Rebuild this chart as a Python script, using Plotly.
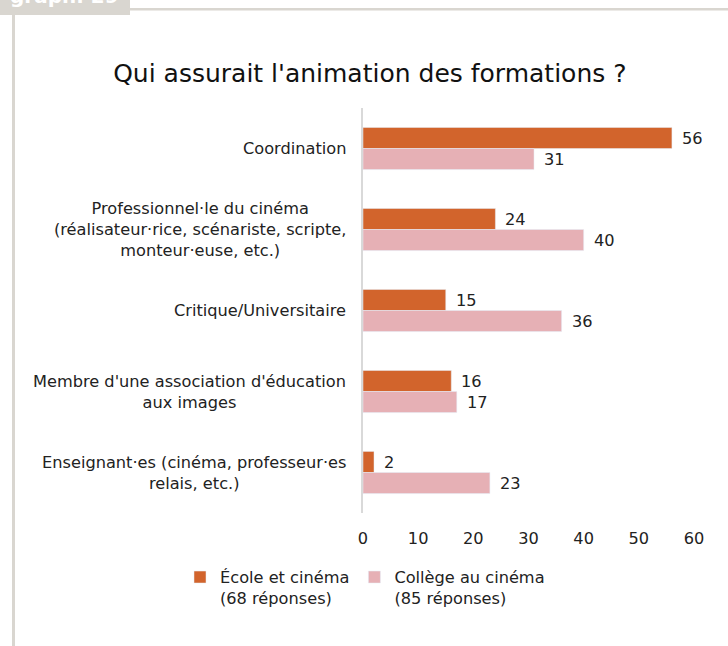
import plotly.graph_objects as go

categories = [
    "Coordination",
    "Professionnel·le du cinéma<br>(réalisateur·rice, scénariste, scripte,<br>monteur·euse, etc.)",
    "Critique/Universitaire",
    "Membre d'une association d'éducation<br>aux images",
    "Enseignant·es (cinéma, professeur·es<br>relais, etc.)",
]
ecole = [56, 24, 15, 16, 2]
college = [31, 40, 36, 17, 23]
series_names = ["École et cinéma<br>(68 réponses)", "Collège au cinéma<br>(85 réponses)"]
x_ticks = [0, 10, 20, 30, 40, 50, 60]

FONT = "DejaVu Sans"
FS = 16.2
TXT = "#222222"
ORANGE = "#D2642C"
PINK = "#E6B0B5"
FRAME = "#D9D6D0"

W, H = 728, 646
L, R, T, B = 363, 34, 108, 133
pw, ph = W - L - R, H - T - B

def px(xp):
    return (xp - L) / pw

def py(yp):
    return (H - B - yp) / ph

fig = go.Figure()
fig.add_trace(go.Bar(y=categories, x=ecole, orientation="h", name=series_names[0],
                     marker_color=ORANGE, hoverinfo="x+y"))
fig.add_trace(go.Bar(y=categories, x=college, orientation="h", name=series_names[1],
                     marker_color=PINK, hoverinfo="x+y"))

annotations = []
for c in categories:
    annotations.append(dict(x=px(348), xref="paper", y=c, yref="y", text=c, showarrow=False,
                            xanchor="right", align="center",
                            font=dict(size=FS, color=TXT, family=FONT)))
for c, v in zip(categories, ecole):
    annotations.append(dict(x=v, y=c, xref="x", yref="y", text=str(v), showarrow=False,
                            xanchor="left", xshift=8, yshift=10.5,
                            font=dict(size=FS, color=TXT, family=FONT)))
for c, v in zip(categories, college):
    annotations.append(dict(x=v, y=c, xref="x", yref="y", text=str(v), showarrow=False,
                            xanchor="left", xshift=8, yshift=-10.5,
                            font=dict(size=FS, color=TXT, family=FONT)))
annotations.append(dict(x=px(8), y=py(10), xref="paper", yref="paper", text="<b>graph. 29</b>",
                        showarrow=False, xanchor="left", yanchor="bottom",
                        font=dict(size=20, color="white", family=FONT)))

shapes = [
    dict(type="rect", xref="paper", yref="paper", x0=px(0), x1=px(130), y0=py(0), y1=py(15),
         fillcolor=FRAME, line_width=0, layer="below"),
    dict(type="rect", xref="paper", yref="paper", x0=px(130), x1=px(728), y0=py(8), y1=py(10.5),
         fillcolor=FRAME, line_width=0, layer="below"),
    dict(type="rect", xref="paper", yref="paper", x0=px(12), x1=px(15), y0=py(15), y1=py(646),
         fillcolor=FRAME, line_width=0, layer="below"),
]

fig.update_layout(
    width=W, height=H,
    margin=dict(l=L, r=R, t=T, b=B),
    paper_bgcolor="white", plot_bgcolor="white",
    barmode="group", bargap=0.48, bargroupgap=0,
    font=dict(family=FONT, color=TXT, size=FS),
    title=dict(text="Qui assurait l'animation des formations ?", x=0.508, xanchor="center",
               y=1 - 73 / H, yanchor="middle", font=dict(size=25, color="#111111", family=FONT)),
    xaxis=dict(range=[0, 60], tickvals=x_ticks, showgrid=False, zeroline=False, showline=False,
               ticks="", ticklabelstandoff=14, tickfont=dict(size=FS, color=TXT, family=FONT)),
    yaxis=dict(autorange="reversed", showticklabels=False, showgrid=False, zeroline=False,
               showline=True, linecolor="#D9D9D9", linewidth=2, ticks=""),
    legend=dict(orientation="h", x=px(180), y=py(560), xanchor="left", yanchor="top",
                valign="top", font=dict(size=FS, color=TXT, family=FONT),
                itemwidth=30, tracegroupgap=0),
    annotations=annotations,
    shapes=shapes,
    showlegend=True,
)

fig.write_html("out.html", config={"displayModeBar": False},
               post_script="document.body.style.margin='0';")
